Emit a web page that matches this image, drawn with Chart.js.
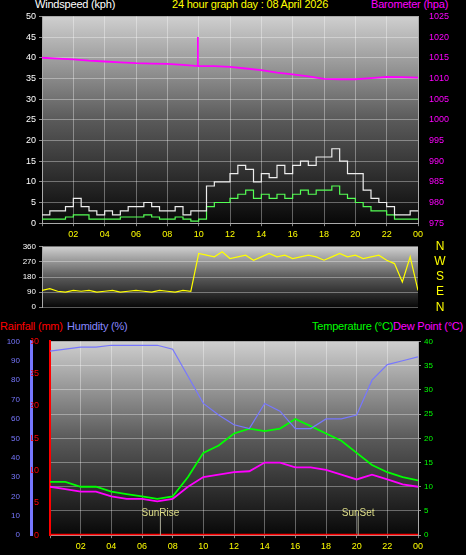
<!DOCTYPE html>
<html><head><meta charset="utf-8">
<script src="https://cdn.jsdelivr.net/npm/chart.js@4"></script>
<style>
body{margin:0;background:#000;width:466px;height:555px;overflow:hidden;position:relative;font-family:"Liberation Sans",sans-serif}
canvas{position:absolute;left:0}
.t{position:absolute;font-size:11px;white-space:nowrap;letter-spacing:-0.2px}
</style></head><body>
<div class="t" style="left:35px;top:-2px;color:#fff">Windspeed (kph)</div>
<div class="t" style="left:172px;top:-2px;color:#ff0">24 hour graph day : 08 April 2026</div>
<div class="t" style="left:371px;top:-2px;color:#f0f">Barometer (hpa)</div>
<div class="t" style="left:0px;top:320px;color:#f00">Rainfall (mm)</div>
<div class="t" style="left:67px;top:320px;color:#88f">Humidity (%)</div>
<div class="t" style="left:312px;top:320px;color:#0f0">Temperature (°C)</div>
<div class="t" style="left:393px;top:320px;color:#f0f">Dew Point (°C)</div>
<canvas id="c1" width="466" height="235" style="top:8px"></canvas>
<canvas id="c2" width="466" height="76" style="top:239px"></canvas>
<canvas id="c3" width="466" height="222" style="top:333px"></canvas>
<script>
// half-hour samples from 00:00 to 24:00
const windGust = [2,3,3,4,6,4,3,2,3,2,3,4,4,5,4,3,3,4,2,3,3,9,10,10,12,14,13,10,12,11,14,12,14,15,14,16,16,18,15,12,12,8,6,5,4,2,2,3,3];
const windAvg = [1,1,1,1.5,2,2,1,1,1,1,1.5,1.5,1.5,2,1.5,1,1,1.5,1,0.5,1,4,5,5,6,7,8,6,7,6,7,6,7,8,7,8,8,9,7,6,5,4,3,3,2,1,1,1,1];
const windDir = [100,110,95,90,100,95,100,90,95,100,90,95,100,95,90,100,95,90,100,95,320,310,300,330,290,300,310,280,300,320,300,310,290,300,310,300,280,300,320,300,310,290,300,310,280,260,150,300,100];
const compass = ['N','E','S','W','N'];
// barometer readings (hour, hpa)
const baroTimes = [0,1,2,3,4,5,6,7,8,9,9.95,9.95,9.95,11,12,13,14,15,16,17,18,19,20,21,22,23,24];
const baroValues = [1015,1014.8,1014.6,1014.3,1014.1,1013.9,1013.7,1013.6,1013.5,1013.3,1013,1020,1013,1013,1012.8,1012.4,1012,1011.4,1011,1010.5,1009.9,1009.8,1009.8,1010.1,1010.4,1010.3,1010.2];
// hourly samples
const humidity = [95,96,97,97,98,98,98,98,96,82,68,62,57,55,68,64,55,55,60,60,62,80,88,90,92];
const temperature = [11,11,10,10,9,8.5,8,7.5,8,12,17,18.5,21,22,21.5,22,24,22.5,21,19.5,17,14.5,13,12,11.3];
const dewPoint = [10,9.5,9,9,8,7.5,7.5,7,7.5,10,12,12.5,13,13.2,15,15,14,14,13.5,12.5,11.5,12.5,11.5,10.5,10];
const rainfall = [0,0,0,0,0,0,0,0,0,0,0,0,0,0,0,0,0,0,0,0,0,0,0,0,0];
const sunRise = 7.2, sunSet = 20.1;

const half = a => a.map((v,i)=>({x:i/2,y:v}));
const hourly = a => a.map((v,i)=>({x:i,y:v}));
const pad = v => String(v%24).padStart(2,'0');
const grid = {color:'rgba(255,255,255,0.35)',borderDash:[1,2],tickColor:'#888',tickLength:3};
const fit = w => ({afterFit(s){s.width=w;}});
const tk = (step,color,size,extra) => ({stepSize:step,color:color,font:{size:size},autoSkip:false,callback:v=>v,...extra});

const bg = {id:'bg',beforeDraw(c){
  const a=c.chartArea,x=c.ctx,g=x.createLinearGradient(0,a.top,0,a.bottom);
  g.addColorStop(0,'#cfcfcf');g.addColorStop(0.5,'#5a5a5a');g.addColorStop(1,'#080808');
  x.save();x.fillStyle=g;x.fillRect(a.left,a.top,a.right-a.left,a.bottom-a.top);x.restore();}};

const xAxis = show => ({type:'linear',min:0,max:24,
  ticks:{stepSize:2,display:show,autoSkip:false,color:'#ff0',font:{size:9},callback:v=>v==0?'':pad(v)},grid:grid,border:{color:'#aaa'}});

const base = {responsive:false,animation:false,plugins:{legend:{display:false},tooltip:{enabled:false}},
  elements:{point:{radius:0},line:{borderWidth:1.2,tension:0}}};

new Chart(document.getElementById('c1'),{type:'line',plugins:[bg],
  data:{datasets:[
    {data:half(windGust),borderColor:'#eee',stepped:true,yAxisID:'y'},
    {data:half(windAvg),borderColor:'#5f5',stepped:true,yAxisID:'y'},
    {data:baroTimes.map((t,i)=>({x:t,y:baroValues[i]})),borderColor:'#f0f',borderWidth:1.8,yAxisID:'y1'}]},
  options:{...base,layout:{padding:{top:2}},scales:{x:xAxis(true),
    y:{min:0,max:50,ticks:tk(5,'#fff',9),grid:grid,border:{color:'#aaa'},...fit(42)},
    y1:{position:'right',min:975,max:1025,ticks:tk(5,'#f0f',9),grid:{display:false},border:{color:'#aaa'},...fit(48)}}}});

const compassPlugin = {id:'compass',afterDraw(c){
  const x=c.ctx,s=c.scales.y;
  x.save();x.fillStyle='#ff0';x.font='12px "Liberation Sans"';x.textAlign='center';x.textBaseline='middle';
  compass.forEach((l,i)=>x.fillText(l,440,s.getPixelForValue(i*90)));x.restore();}};

new Chart(document.getElementById('c2'),{type:'line',plugins:[bg,compassPlugin],
  data:{datasets:[{data:half(windDir),borderColor:'#ff0'}]},
  options:{...base,layout:{padding:{top:6,right:48}},scales:{
    x:{type:'linear',display:false,min:0,max:24},
    y:{min:0,max:360,ticks:tk(90,'#fff',8),grid:grid,border:{color:'#aaa'},...fit(42)}}}});

const sun = {id:'sun',afterDatasetsDraw(c){
  const x=c.ctx,a=c.chartArea,s=c.scales.x;
  x.save();x.strokeStyle='#aa9';x.fillStyle='#dd8';x.font='10px "Liberation Sans"';x.textAlign='center';
  [[sunRise,'SunRise'],[sunSet,'SunSet']].forEach(([t,l])=>{const px=s.getPixelForValue(t);
    x.beginPath();x.moveTo(px,a.bottom);x.lineTo(px,a.bottom-22);x.stroke();x.fillText(l,px,a.bottom-19);});
  x.restore();}};

new Chart(document.getElementById('c3'),{type:'line',plugins:[bg,sun],
  data:{datasets:[
    {data:hourly(humidity),borderColor:'#77f',yAxisID:'yh'},
    {data:hourly(dewPoint),borderColor:'#f0f',borderWidth:1.8,yAxisID:'yt'},
    {data:hourly(temperature),borderColor:'#0f0',borderWidth:1.8,yAxisID:'yt'},
    {data:hourly(rainfall),borderColor:'#f00',borderWidth:3,yAxisID:'yr'}]},
  options:{...base,layout:{padding:{top:6}},scales:{x:xAxis(true),
    yh:{min:0,max:100,weight:2,ticks:tk(10,'#77f',8),grid:{display:false},border:{color:'#77f',width:3},...fit(31)},
    yr:{min:0,max:30,weight:1,ticks:tk(5,'#f00',9),grid:{display:false},border:{color:'#f00',width:2},...fit(19)},
    yt:{position:'right',min:0,max:40,ticks:tk(5,'#0f0',8),grid:grid,border:{color:'#aaa'},...fit(48)}}}});
</script></body></html>
